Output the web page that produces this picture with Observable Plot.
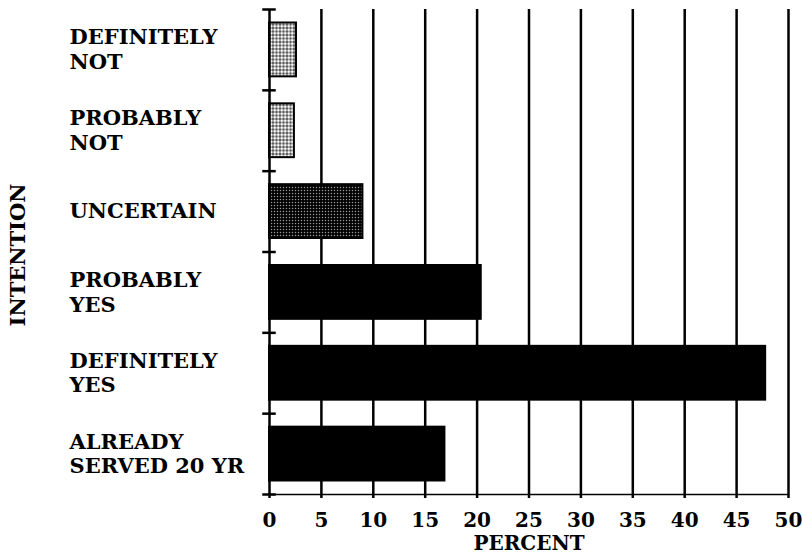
<!DOCTYPE html>
<html><head>
<meta charset="utf-8">
<script src="https://cdn.jsdelivr.net/npm/d3@7"></script>
<script src="https://cdn.jsdelivr.net/npm/@observablehq/plot@0.6"></script>
<style>body{margin:0;background:#fff}</style>
</head><body><div id="chart"></div>
<script>
const categories = ["DEFINITELY\nNOT", "PROBABLY\nNOT", "UNCERTAIN", "PROBABLY\nYES", "DEFINITELY\nYES", "ALREADY\nSERVED 20 YR"];
const percents = [2.6, 2.4, 9.0, 20.4, 47.8, 16.9];
const xTicks = [0, 5, 10, 15, 20, 25, 30, 35, 40, 45, 50];
const barFills = ["url(#lightdots)", "url(#lightdots)", "url(#darkdots)", "black", "black", "black"];

const rows = categories.map((c, i) => ({category: c, idx: i, percent: percents[i], fill: barFills[i]}));
const boundaries = d3.range(-0.5, categories.length, 1);

const chart = Plot.plot({
  width: 802,
  height: 558,
  marginLeft: 269,
  marginRight: 14,
  marginTop: 9,
  marginBottom: 64,
  style: {fontFamily: "DejaVu Serif", fontWeight: "bold", fontSize: "20px", background: "white", color: "black"},
  x: {domain: [0, 50], ticks: xTicks},
  y: {domain: [-0.5, categories.length - 0.5], reverse: true, axis: null},
  color: {type: "identity"},
  marks: [
    Plot.ruleX(xTicks.filter(t => t > 0), {y1: -0.5, y2: categories.length - 0.5, strokeWidth: 2.5}),
    Plot.ruleY([categories.length - 0.5], {x1: 0, x2: 50, strokeWidth: 1.5}),
    Plot.rectX(rows, {x1: 0, x2: "percent", y1: d => d.idx - 0.5, y2: d => d.idx + 0.5, insetTop: 13.5, insetBottom: 13.5, fill: "fill", stroke: "black", strokeWidth: 2}),
    Plot.ruleX([0], {y1: -0.5, y2: categories.length - 0.5, strokeWidth: 2.5}),
    Plot.ruleY(boundaries, {x1: -0.65, x2: 0.65, strokeWidth: 2.5}),
    Plot.text(rows, {y: "idx", text: "category", frameAnchor: "left", textAnchor: "start", dx: -200, dy: -1, lineHeight: 1.17, fontSize: 21}),
    Plot.text(["INTENTION"], {frameAnchor: "left", textAnchor: "middle", rotate: -90, dx: -251, dy: 3, fontSize: 21, letterSpacing: "1px"}),
    Plot.axisX({ticks: xTicks, tickSize: 4, tickPadding: 14, label: "PERCENT", labelAnchor: "center", labelArrow: "none", labelOffset: 55, fontSize: 20, strokeWidth: 2.5})
  ]
});

const svg = d3.select(chart);
const defs = svg.insert("defs", ":first-child");
const p1 = defs.append("pattern").attr("id", "lightdots").attr("patternUnits", "userSpaceOnUse").attr("width", 3.5).attr("height", 3.5);
p1.append("rect").attr("width", 3.5).attr("height", 3.5).attr("fill", "#444");
p1.append("circle").attr("cx", 1.75).attr("cy", 1.75).attr("r", 1.5).attr("fill", "white");
const p2 = defs.append("pattern").attr("id", "darkdots").attr("patternUnits", "userSpaceOnUse").attr("width", 3).attr("height", 3);
p2.append("rect").attr("width", 3).attr("height", 3).attr("fill", "black");
p2.append("circle").attr("cx", 1.5).attr("cy", 1.5).attr("r", 0.75).attr("fill", "#999");

document.getElementById("chart").appendChild(chart);
</script>
</body></html>
